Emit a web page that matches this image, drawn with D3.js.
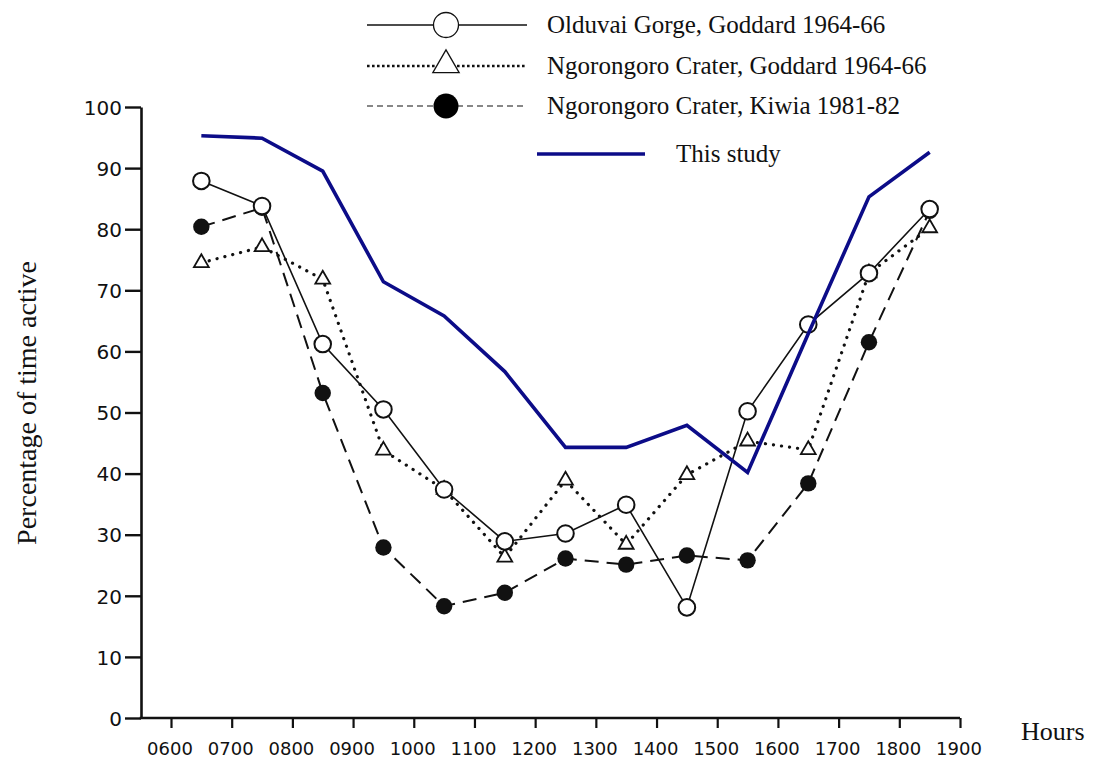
<!DOCTYPE html>
<html>
<head>
<meta charset="utf-8">
<script src="https://cdn.jsdelivr.net/npm/d3@7"></script>
<style>
  html, body { margin: 0; padding: 0; background: #fff; }
  svg { display: block; }
  .tick-num { font-family: "DejaVu Sans", sans-serif; fill: #111; }
  .serif { font-family: "Liberation Serif", "Times New Roman", serif; fill: #111; }
</style>
</head>
<body>
<svg id="chart" width="1096" height="762"></svg>
<script>
// Half-hour observation slots, 0630 to 1830
const hours = [6.5, 7.5, 8.5, 9.5, 10.5, 11.5, 12.5, 13.5, 14.5, 15.5, 16.5, 17.5, 18.5];

// Percentage of time active, per slot
const olduvaiGoddard    = [87.9, 83.8, 61.2, 50.5, 37.4, 28.9, 30.2, 34.9, 18.1, 50.2, 64.4, 72.8, 83.3];
const ngorongoroGoddard = [74.5, 77.1, 71.8, 43.8, 37.4, 26.3, 38.9, 28.4, 39.8, 45.3, 43.9, 72.8, 80.2];
const ngorongoroKiwia   = [80.4, 83.5, 53.2, 27.9, 18.3, 20.5, 26.1, 25.1, 26.6, 25.8, 38.4, 61.5, 83.0];
const thisStudy         = [95.3, 94.9, 89.5, 71.4, 65.8, 56.7, 44.3, 44.3, 47.9, 40.2, 62.9, 85.3, 92.6];

// Axis ticks
const xTickHours  = [6, 7, 8, 9, 10, 11, 12, 13, 14, 15, 16, 17, 18, 19];
const xTickLabels = ["0600", "0700", "0800", "0900", "1000", "1100", "1200", "1300", "1400", "1500", "1600", "1700", "1800", "1900"];
const yTicks      = [0, 10, 20, 30, 40, 50, 60, 70, 80, 90, 100];

const legendLabels = [
  "Olduvai Gorge, Goddard 1964-66",
  "Ngorongoro Crater, Goddard 1964-66",
  "Ngorongoro Crater, Kiwia 1981-82",
  "This study"
];

const svg = d3.select("#chart");
const navy = "#0c0c88";

const x = d3.scaleLinear().domain([6, 19]).range([171, 960]);
const y = d3.scaleLinear().domain([0, 100]).range([718, 107]);
const yAxisX = 141;

// ---- axes ----
const yAxis = svg.append("g").attr("transform", `translate(${yAxisX},0)`)
  .call(d3.axisLeft(y).tickValues(yTicks).tickSize(16).tickPadding(3).tickSizeOuter(0));
yAxis.select(".domain").attr("stroke", "#111").attr("stroke-width", 2.6);
yAxis.selectAll(".tick line").attr("stroke", "#111").attr("stroke-width", 2.4);
yAxis.selectAll(".tick text").attr("class", "tick-num").attr("font-size", 20).attr("dy", "0.36em");

const xAxis = svg.append("g").attr("transform", `translate(0,${y(0)})`)
  .call(d3.axisBottom(x).tickValues(xTickHours).tickFormat((d, i) => xTickLabels[i])
    .tickSize(10).tickPadding(14).tickSizeOuter(0));
xAxis.select(".domain").attr("stroke", "#111").attr("stroke-width", 2.6)
  .attr("d", `M${yAxisX - 1.3},0H${x(19)}`);
xAxis.selectAll(".tick line").attr("stroke", "#111").attr("stroke-width", 2.2);
xAxis.selectAll(".tick text").attr("class", "tick-num").attr("font-size", 18).attr("dx", -1.5);

svg.append("text").attr("class", "serif").attr("font-size", 28)
  .attr("transform", "translate(36,403) rotate(-90)").attr("text-anchor", "middle")
  .text("Percentage of time active");
svg.append("text").attr("class", "serif").attr("font-size", 26)
  .attr("x", 1021).attr("y", 740).text("Hours");

// ---- series ----
const line = d3.line().x(d => x(d[0])).y(d => y(d[1]));
const pts = vals => hours.map((h, i) => [h, vals[i]]);

svg.append("path").datum(pts(ngorongoroKiwia)).attr("d", line)
  .attr("fill", "none").attr("stroke", "#111").attr("stroke-width", 2)
  .attr("stroke-dasharray", "14 8");
svg.append("path").datum(pts(ngorongoroGoddard)).attr("d", line)
  .attr("fill", "none").attr("stroke", "#111").attr("stroke-width", 3.2)
  .attr("stroke-linecap", "round").attr("stroke-dasharray", "0.1 8");
svg.append("path").datum(pts(olduvaiGoddard)).attr("d", line)
  .attr("fill", "none").attr("stroke", "#111").attr("stroke-width", 1.6);

const tri = d3.symbol().type(d3.symbolTriangle).size(95);

svg.append("g").selectAll("circle").data(pts(ngorongoroKiwia)).join("circle")
  .attr("cx", d => x(d[0])).attr("cy", d => y(d[1])).attr("r", 8.2).attr("fill", "#111");
svg.append("g").selectAll("path").data(pts(ngorongoroGoddard)).join("path")
  .attr("d", tri).attr("transform", d => `translate(${x(d[0])},${y(d[1])})`)
  .attr("fill", "#fff").attr("stroke", "#111").attr("stroke-width", 1.8);
svg.append("g").selectAll("circle").data(pts(olduvaiGoddard)).join("circle")
  .attr("cx", d => x(d[0])).attr("cy", d => y(d[1])).attr("r", 8.3)
  .attr("fill", "#fff").attr("stroke", "#111").attr("stroke-width", 2);

svg.append("path").datum(pts(thisStudy)).attr("d", line)
  .attr("fill", "none").attr("stroke", navy).attr("stroke-width", 3.6).attr("stroke-linejoin", "miter");

// ---- legend ----
const lg = svg.append("g");
const rows = [25, 66, 106];
const lx0 = 367, lx1 = 527, lmark = 446, ltext = 547;

lg.append("line").attr("x1", lx0).attr("x2", lx1).attr("y1", rows[0]).attr("y2", rows[0])
  .attr("stroke", "#111").attr("stroke-width", 1.3);
lg.append("circle").attr("cx", lmark).attr("cy", rows[0]).attr("r", 12.5)
  .attr("fill", "#fff").attr("stroke", "#111").attr("stroke-width", 1.3);

lg.append("line").attr("x1", lx0).attr("x2", lx1).attr("y1", rows[1]).attr("y2", rows[1])
  .attr("stroke", "#111").attr("stroke-width", 2.6).attr("stroke-dasharray", "2.6 2.4");
lg.append("path").attr("d", d3.symbol().type(d3.symbolTriangle).size(300))
  .attr("transform", `translate(${lmark},${rows[1] - 1})`)
  .attr("fill", "#fff").attr("stroke", "#111").attr("stroke-width", 1.3);

lg.append("line").attr("x1", lx0).attr("x2", lx1).attr("y1", rows[2]).attr("y2", rows[2])
  .attr("stroke", "#111").attr("stroke-width", 1.2).attr("stroke-dasharray", "6 4");
lg.append("circle").attr("cx", lmark).attr("cy", rows[2]).attr("r", 12.5).attr("fill", "#000");

lg.append("line").attr("x1", 537).attr("x2", 645).attr("y1", 154).attr("y2", 154)
  .attr("stroke", navy).attr("stroke-width", 3.6);

lg.selectAll("text.lab").data(legendLabels).join("text")
  .attr("class", "serif").attr("font-size", 25)
  .attr("x", (d, i) => i < 3 ? ltext : 676)
  .attr("y", (d, i) => (i < 3 ? rows[i] : 154) + 8)
  .text(d => d);
</script>
</body>
</html>
